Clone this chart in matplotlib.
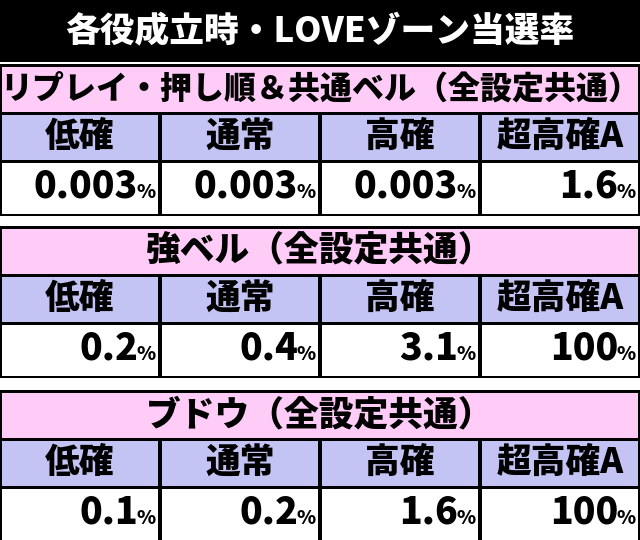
import matplotlib
matplotlib.use("Agg")
import matplotlib.pyplot as plt
from matplotlib.patches import Rectangle

plt.rcParams['font.family'] = ['Noto Sans CJK JP', 'DejaVu Sans']

title = "各役成立時・LOVEゾーン当選率"
sections = ["リプレイ・押し順＆共通ベル（全設定共通）", "強ベル（全設定共通）", "ブドウ（全設定共通）"]
modes = ["低確", "通常", "高確", "超高確A"]
values = [
    ["0.003", "0.003", "0.003", "1.6"],
    ["0.2", "0.4", "3.1", "100"],
    ["0.1", "0.2", "1.6", "100"],
]

PINK = "#FFCCF8"
LAV = "#C4C4F4"

fig = plt.figure(figsize=(6.4, 5.4), dpi=100)
ax = fig.add_axes([0, 0, 1, 1])
ax.set_xlim(0, 640)
ax.set_ylim(540, 0)
ax.axis("off")

ax.add_patch(Rectangle((0, 0), 640, 62, facecolor="black", edgecolor="none"))
ax.text(320, 32, title, color="white", fontsize=25, fontweight="black",
        ha="center", va="center")

tops = [64, 226, 390]
colw = 160
for s, top in enumerate(tops):
    ax.add_patch(Rectangle((0, top), 640, 152, facecolor="black", edgecolor="none"))
    ax.add_patch(Rectangle((2, top + 3), 636, 45, facecolor=PINK, edgecolor="none"))
    fs = 23 if s == 0 else 25
    ax.text(320, top + 25, sections[s], fontsize=fs, fontweight="black",
            ha="center", va="center")
    for c in range(4):
        x0 = c * colw + 2
        w = colw - 4
        ax.add_patch(Rectangle((x0, top + 51), w, 45, facecolor=LAV, edgecolor="none"))
        ax.add_patch(Rectangle((x0, top + 99), w, 51, facecolor="white", edgecolor="none"))
        ax.text(x0 + w / 2, top + 72, modes[c], fontsize=25, fontweight="black",
                ha="center", va="center")
        ax.text(x0 + w - 20, top + 123, values[s][c], fontsize=27,
                fontweight="black", ha="right", va="center")
        ax.text(x0 + w - 2, top + 128, "%", fontsize=14, fontweight="black",
                ha="right", va="center")

fig.savefig("out.png", dpi=100)
